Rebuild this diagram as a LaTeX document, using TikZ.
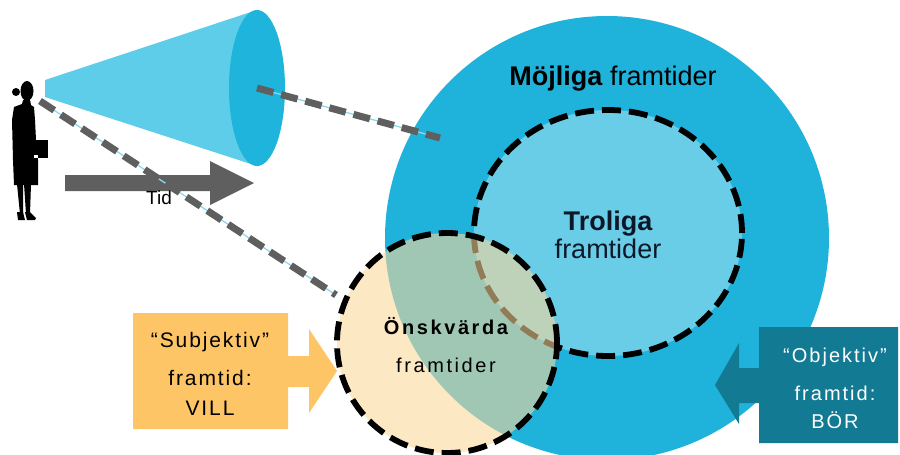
\documentclass[tikz,border=0pt]{standalone}
\usepackage{fontspec}
\setmainfont{Liberation Sans}
\newfontfamily\spA[LetterSpace=9]{Liberation Sans}
\newfontfamily\spB[LetterSpace=10]{Liberation Sans}
\newfontfamily\spC[LetterSpace=13]{Liberation Sans}
\definecolor{bigcyan}{RGB}{31,179,219}
\definecolor{trolcyan}{RGB}{106,205,232}
\definecolor{conelight}{RGB}{93,205,234}
\definecolor{conedark}{RGB}{30,180,220}
\definecolor{tidgray}{RGB}{95,95,95}
\definecolor{lineblue}{RGB}{140,215,238}
\definecolor{peach}{RGB}{252,215,153}
\definecolor{orangebox}{RGB}{253,197,102}
\definecolor{tealbox}{RGB}{18,122,147}
\definecolor{navytext}{RGB}{12,24,40}
\begin{document}
\begin{tikzpicture}[x=1pt,y=-1pt,
  thinline/.style={draw=lineblue,line width=1.3pt},
  grayline/.style={draw=tidgray,line width=7pt,dash pattern=on 17pt off 8pt},
  circdash/.style={draw=black,line width=5.8pt,dash pattern=on 19pt off 8pt},
  lbl/.style={inner sep=0pt,anchor=base}]
\useasboundingbox (0,0) rectangle (900,455);
\clip (0,0) rectangle (900,455);

% big circle (Möjliga)
\fill[bigcyan] (607,238) ellipse [x radius=222pt, y radius=222pt];

% cone
\fill[conelight] (45,80) -- (257,10) -- (257,166) -- (45,97) -- cycle;
\fill[conedark] (257,88) ellipse [x radius=28pt, y radius=78pt];
\coordinate (conec) at (257,88);
\coordinate (eye) at (40,101);
\coordinate (l1end) at (440,138);
\coordinate (l2end) at (336,295);

% person
\begin{scope}
\fill[black] (27,91) ellipse [x radius=6.5pt, y radius=10pt];
\fill[black] (16,92) ellipse [x radius=4pt, y radius=4pt];
\fill[black] (23,100) -- (30,100) -- (31,105) -- (34,107) -- (35,120) -- (36,140) -- (38,160) -- (38,185) -- (14,185) -- (13,160) -- (12,120) -- (14,107) -- (22,104) -- cycle;
\fill[black] (36,140) rectangle (48,158);
\fill[white] (34,155) rectangle (38,158);
\fill[black] (17,184) -- (23,184) -- (23,214) -- (20,214) -- cycle;
\fill[black] (24,184) -- (31,184) -- (30,214) -- (26,214) -- cycle;
\fill[black] (17,212) -- (23,212) -- (25,220) -- (18,220) -- cycle;
\fill[black] (25,212) -- (30,212) -- (36,218) -- (35,220) -- (27,220) -- cycle;
\end{scope}

% Tid arrow
\fill[tidgray] (65,175) -- (210,175) -- (210,161) -- (254,183) -- (210,205) -- (210,191) -- (65,191) -- cycle;
\node[lbl,font=\fontsize{19}{21}\selectfont] (tid) at (159,204) {Tid};

% dashed sight lines
\draw[thinline] (conec) -- (l1end);
\draw[grayline] (conec) -- (l1end);
\draw[thinline] (eye) -- (l2end);
\draw[grayline] (eye) -- (l2end);

% Troliga
\fill[trolcyan] (608,233) ellipse [x radius=134pt, y radius=123pt];
\draw[circdash] (608,233) ellipse [x radius=134pt, y radius=123pt];

% Önskvärda
\fill[peach,fill opacity=0.58] (447,343) ellipse [x radius=110pt, y radius=110pt];
\draw[circdash] (447,343) ellipse [x radius=110pt, y radius=110pt];

% texts in circles
\node[lbl,font=\fontsize{27}{30}\selectfont] (mojtxt) at (613,85) {\textbf{Möjliga} framtider};
\node[lbl,font=\fontsize{27}{30}\selectfont\bfseries,text=navytext] (troltxt) at (608,230) {Troliga};
\node[lbl,font=\fontsize{27}{30}\selectfont,text=navytext] (troltxt2) at (608,258) {framtider};
\node[lbl,font=\spC\fontsize{20}{24}\selectfont\bfseries] (onsk) at (446,334) {Önskvärda};
\node[lbl,font=\spC\fontsize{20}{24}\selectfont] (onsk2) at (446,372) {framtider};

% orange box
\fill[orangebox] (133,313) -- (288,313) -- (288,356) -- (309,356) -- (309,329) -- (337,371) -- (309,413) -- (309,387) -- (288,387) -- (288,429) -- (133,429) -- cycle;
\node[lbl,font=\spA\fontsize{21}{24}\selectfont] (sub1) at (210,347) {“Subjektiv”};
\node[lbl,font=\spA\fontsize{21}{24}\selectfont] (sub2) at (210,385) {framtid:};
\node[lbl,font=\spA\fontsize{21}{24}\selectfont] (sub3) at (210,415) {VILL};

% teal box
\fill[tealbox] (759,327) -- (898,327) -- (898,443) -- (759,443) -- (759,403) -- (739,403) -- (739,424) -- (715,385) -- (739,343) -- (739,368) -- (759,368) -- cycle;
\node[lbl,text=white,font=\spB\fontsize{20}{24}\selectfont] (obj1) at (835,362) {“Objektiv”};
\node[lbl,text=white,font=\spB\fontsize{20}{24}\selectfont] (obj2) at (835,400) {framtid:};
\node[lbl,text=white,font=\spB\fontsize{20}{24}\selectfont] (obj3) at (835,428) {BÖR};
\end{tikzpicture}
\end{document}
